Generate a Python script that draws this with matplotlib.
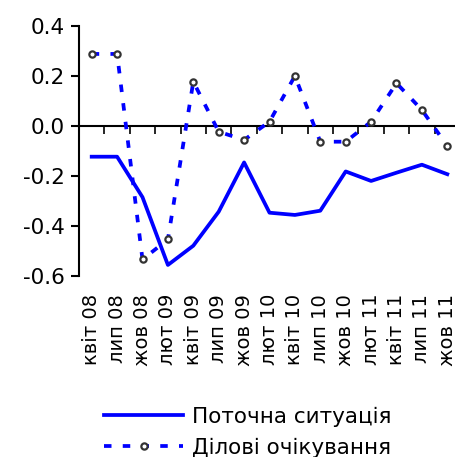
import matplotlib
matplotlib.use("Agg")
import matplotlib.pyplot as plt

plt.rcParams["font.family"] = ["DejaVu Sans"]

periods = ["квіт 08", "лип 08", "жов 08", "лют 09", "квіт 09", "лип 09", "жов 09",
           "лют 10", "квіт 10", "лип 10", "жов 10", "лют 11", "квіт 11", "лип 11", "жов 11"]
current = [-0.124, -0.124, -0.286, -0.557, -0.480, -0.344, -0.147,
           -0.348, -0.357, -0.340, -0.183, -0.221, -0.188, -0.156, -0.194]
expected = [0.287, 0.287, -0.535, -0.455, 0.176, -0.024, -0.057,
            0.016, 0.199, -0.064, -0.064, 0.016, 0.170, 0.063, -0.081]

BLUE = "#0000FF"

fig = plt.figure(figsize=(4.55, 4.57), dpi=100)
ax = fig.add_axes([79 / 455, 1 - 275.7 / 457, 381 / 455, 250 / 457])

x = list(range(len(periods)))
ax.plot(x, current, color=BLUE, lw=2.7, label="Поточна ситуація", zorder=3)
ax.plot(x, expected, color=BLUE, lw=2.7, linestyle=(0, (2.0, 3.0)),
        marker="o", ms=4.5, mfc="white", mec="#333333", mew=1.6,
        label="Ділові очікування", zorder=4)

ax.set_xlim(-0.5, len(periods) - 0.5)
ax.set_ylim(-0.6, 0.4)
ax.set_yticks([-0.6, -0.4, -0.2, 0.0, 0.2, 0.4])
ax.set_yticklabels(["-0.6", "-0.4", "-0.2", "0.0", "0.2", "0.4"])
ax.tick_params(axis="y", labelsize=15.5, length=6, width=1.5, pad=4)

for s in ["top", "right"]:
    ax.spines[s].set_visible(False)
ax.spines["left"].set_linewidth(1.5)
ax.spines["bottom"].set_position(("data", 0))
ax.spines["bottom"].set_linewidth(1.5)
ax.set_xticks([i - 0.5 for i in range(len(periods) + 1)])
ax.set_xticklabels([])
ax.tick_params(axis="x", length=6, width=1.2, direction="out")

sec = ax.secondary_xaxis(0)
sec.set_xticks(x)
sec.set_xticklabels(periods, rotation=90, fontsize=14)
sec.tick_params(length=0, pad=13)
sec.spines["bottom"].set_visible(False)

fig.legend(loc="upper left", bbox_to_anchor=(93 / 455, 1 - 396 / 457),
           frameon=False, fontsize=15.5, handlelength=3.7, handletextpad=0.4,
           labelspacing=0.5, numpoints=1, borderpad=0)

fig.savefig("out.png", dpi=100, facecolor="white")
